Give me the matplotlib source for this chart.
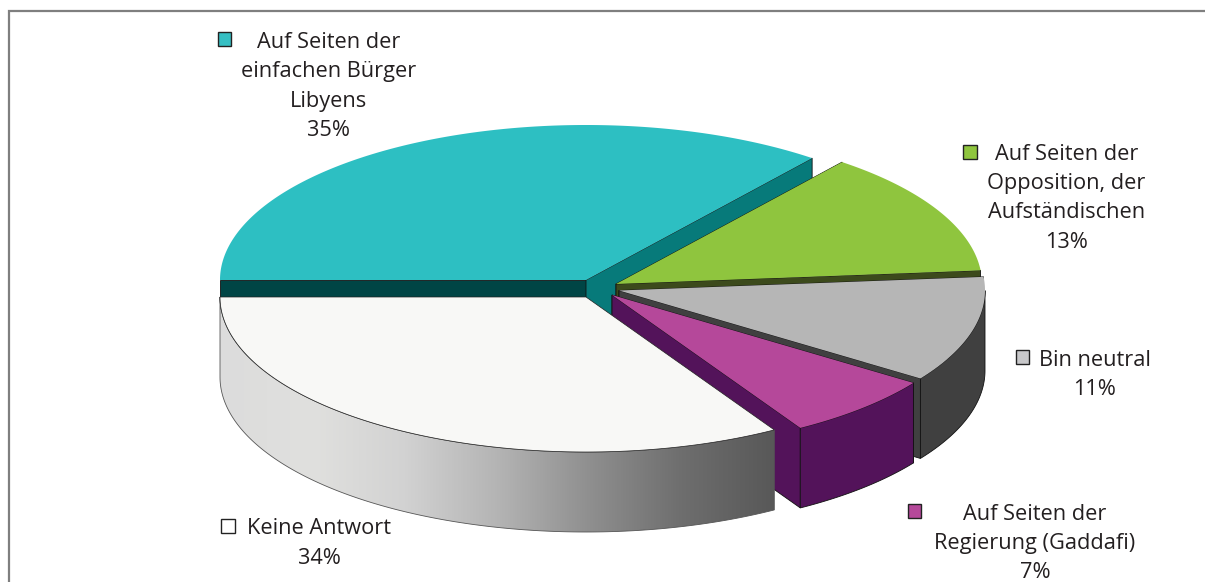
import numpy as np
import matplotlib
matplotlib.use("Agg")
import matplotlib.pyplot as plt
from matplotlib.patches import Polygon, Rectangle
from matplotlib.colors import LinearSegmentedColormap

# ---- data
categories = ["Auf Seiten der\neinfachen Bürger\nLibyens",
              "Auf Seiten der\nOpposition, der\nAufständischen",
              "Bin neutral",
              "Auf Seiten der\nRegierung (Gaddafi)",
              "Keine Antwort"]
shares = [35.6, 13, 11, 6.8, 33.6]
percent_labels = ["35%", "13%", "11%", "7%", "34%"]

# ---- styles
top_colors = ["#2dbfc2", "#8fc53e", "#b6b6b6", "#b5489a", "#f8f8f6"]
side_colors = ["#077a7a", "#3c4a1c", "#404040", "#53135a", "#808080"]
inner_colors = ["#004545", "#3c4a1c", "#404040", "#53135a", "#808080"]
key_colors = ["#36bfc3", "#8fc53e", "#c8c8ca", "#b5489a", "#ffffff"]
centers = [(586, 280), (616, 284), (619, 290.5), (612, 295), (586, 297)]
RX, RY, DEPTH = 366, 155, 80
key_pos = [(224.5, 39), (970, 152), (1022.5, 357), (914.5, 511), (228, 526)]
label_pos = [(329, 42), (1066.5, 154), (1095, 360), (1035, 514), (319, 529)]
LINE = 29.5
TEXT = "#231f20"

plt.rcParams["font.family"] = ["Open Sans", "DejaVu Sans"]
fig = plt.figure(figsize=(12.05, 5.82), dpi=100)
ax = fig.add_axes([0, 0, 1, 1])
ax.set_xlim(0, 1205)
ax.set_ylim(582, 0)
ax.axis("off")

# frame
ax.plot([8.5, 8.5, 1205], [582, 10.5, 10.5], color="#7f7f7f", lw=1.6, zorder=1, solid_joinstyle="miter")


def rim(c, a0, a1):
    t = np.radians(np.linspace(a0, a1, max(int(abs(a1 - a0) * 3), 2)))
    return np.column_stack([c[0] + RX * np.cos(t), c[1] - RY * np.sin(t)])


def quad(c, a):
    p = rim(c, a, a)[0]
    return np.array([c, p, p + [0, DEPTH], np.array(c) + [0, DEPTH]])


edges = np.cumsum([0] + shares) * 3.6
starts = 180 - edges[:-1]
ends = 180 - edges[1:]
z = 2
gradient = LinearSegmentedColormap.from_list(
    "wall", ["#dcdcdc", "#e0e0de", "#d2d2d2", "#b4b4b4", "#8f8f8f", "#6e6e6e", "#585858"])

for i in range(len(shares)):
    c, a0, a1 = centers[i], starts[i], ends[i]
    # cut faces
    for a, col in ((a0, inner_colors[i]), (a1, side_colors[i] if i == 0 else inner_colors[i])):
        if i == 4:
            continue
        ax.add_patch(Polygon(quad(c, a), closed=True, fc=col, ec="#111111", lw=0.6, zorder=z))
    # outer wall, the part that faces the viewer
    w0, w1 = min(a0, 0), max(a1, -180)
    if w0 > w1:
        arc = rim(c, w0, w1)
        wall = np.vstack([arc, (arc + [0, DEPTH])[::-1]])
        if i == 4:
            patch = Polygon(wall, closed=True, fc="none", ec="#555555", lw=0.6, zorder=z + 0.2)
            ax.add_patch(patch)
            im = ax.imshow(np.linspace(0, 1, 256)[None, :], extent=(wall[:, 0].min(), wall[:, 0].max(),
                           wall[:, 1].max(), wall[:, 1].min()), cmap=gradient, aspect="auto", zorder=z + 0.1)
            im.set_clip_path(Polygon(wall, closed=True, transform=ax.transData))
        else:
            ax.add_patch(Polygon(wall, closed=True, fc=side_colors[i], ec="#111111", lw=0.6, zorder=z + 0.1))
    # top face
    top = np.vstack([[c], rim(c, a0, a1)])
    ax.add_patch(Polygon(top, closed=True, fc=top_colors[i], ec="#222222" if i == 4 else "none", lw=0.5, zorder=z + 0.3))
    z += 1

ax.set_xlim(0, 1205)
ax.set_ylim(582, 0)

# labels and keys
for i, cat in enumerate(categories):
    lines = cat.split("\n") + [percent_labels[i]]
    for j, line in enumerate(lines):
        ax.text(label_pos[i][0], label_pos[i][1] + j * LINE, line, ha="center", va="center",
                fontsize=15.65, color=TEXT, zorder=20)
    kx, ky = key_pos[i]
    ax.add_patch(Rectangle((kx - 6.75, ky - 6.75), 13.5, 13.5, fc=key_colors[i], ec="#222222", lw=1, zorder=20))

fig.savefig("out.png", dpi=100)
